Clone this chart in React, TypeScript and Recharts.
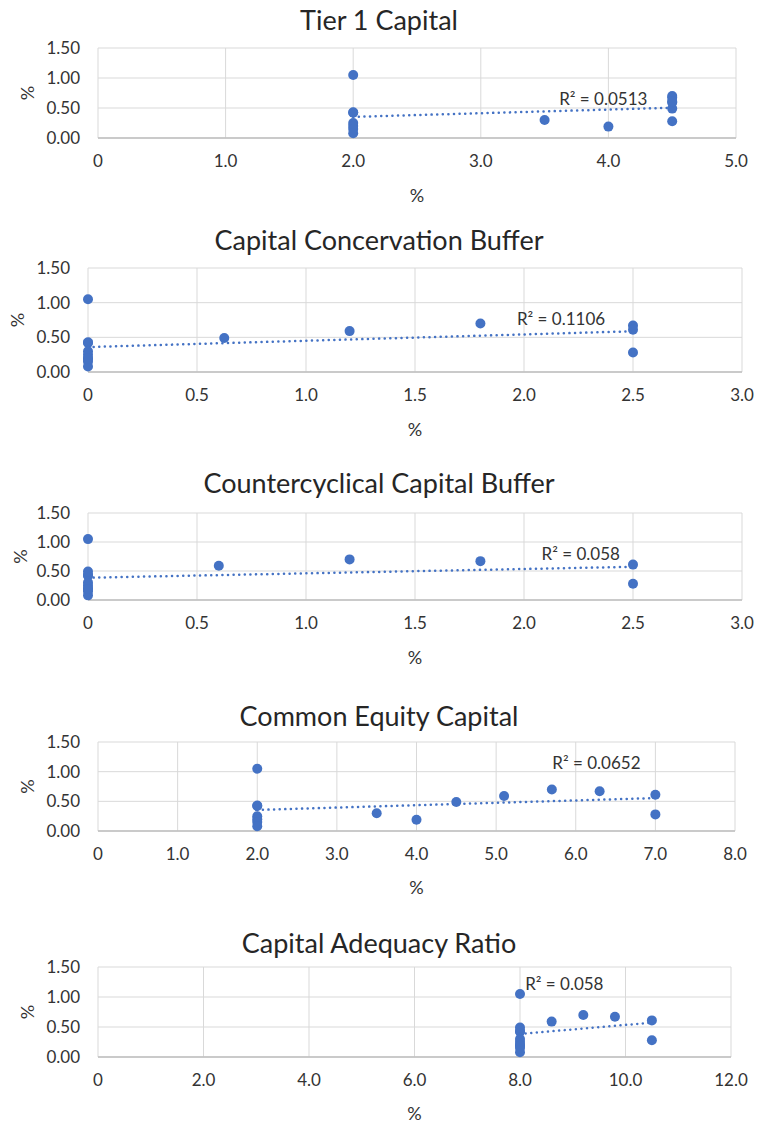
import React from 'react';
import { ScatterChart, Scatter, XAxis, YAxis, CartesianGrid, ReferenceDot, Label } from 'recharts';

// Dependent variable (same for all panels), %
const yValues = [1.05, 0.43, 0.42, 0.25, 0.2, 0.15, 0.08, 0.3, 0.19, 0.49, 0.59, 0.7, 0.67, 0.61, 0.28];

// Independent variables, %
const tier1X = [2, 2, 2, 2, 2, 2, 2, 3.5, 4, 4.5, 4.5, 4.5, 4.5, 4.5, 4.5];
const conservationX = [0, 0, 0, 0, 0, 0, 0, 0, 0, 0.625, 1.2, 1.8, 2.5, 2.5, 2.5];
const countercyclicalX = [0, 0, 0, 0, 0, 0, 0, 0, 0, 0, 0.6, 1.2, 1.8, 2.5, 2.5];
const commonEquityX = [2, 2, 2, 2, 2, 2, 2, 3.5, 4, 4.5, 5.1, 5.7, 6.3, 7, 7];
const carX = [8, 8, 8, 8, 8, 8, 8, 8, 8, 8, 8.6, 9.2, 9.8, 10.5, 10.5];

const titles = ['Tier 1 Capital', 'Capital Concervation Buffer', 'Countercyclical Capital Buffer', 'Common Equity Capital', 'Capital Adequacy Ratio'];
const r2Labels = ['R² = 0.0513', 'R² = 0.1106', 'R² = 0.058', 'R² = 0.0652', 'R² = 0.058'];
const r2Pos = [
  [3.96, 0.65],
  [2.17, 0.76],
  [2.26, 0.8],
  [6.26, 1.14],
  [8.84, 1.22],
];
const xTicks = [
  [0, 1, 2, 3, 4, 5],
  [0, 0.5, 1, 1.5, 2, 2.5, 3],
  [0, 0.5, 1, 1.5, 2, 2.5, 3],
  [0, 1, 2, 3, 4, 5, 6, 7, 8],
  [0, 2, 4, 6, 8, 10, 12],
];
const yTicks = [0, 0.5, 1, 1.5];
const xSeries = [tier1X, conservationX, countercyclicalX, commonEquityX, carX];

// layout (page px)
const boxes = [
  { l: 98, r: 736, t: 48, b: 138, titleY: 20, xLab: 57, yLab: 27 },
  { l: 88, r: 742, t: 268, b: 372, titleY: 240, xLab: 57, yLab: 17 },
  { l: 88, r: 742, t: 513, b: 600, titleY: 483, xLab: 57, yLab: 20 },
  { l: 98, r: 735, t: 742, b: 831, titleY: 716, xLab: 56, yLab: 27 },
  { l: 98, r: 731, t: 967, b: 1057, titleY: 943, xLab: 56, yLab: 27 },
];

const BLUE = '#4472C4';
const FONT = 'Lato, "Open Sans", sans-serif';
const TEXT = '#333333';

function regression(xs: number[], ys: number[]) {
  const n = xs.length;
  const mx = xs.reduce((a, b) => a + b, 0) / n;
  const my = ys.reduce((a, b) => a + b, 0) / n;
  let sxy = 0, sxx = 0;
  for (let i = 0; i < n; i++) {
    sxy += (xs[i] - mx) * (ys[i] - my);
    sxx += (xs[i] - mx) * (xs[i] - mx);
  }
  const slope = sxy / sxx;
  const icpt = my - slope * mx;
  const minX = Math.min(...xs);
  const maxX = Math.max(...xs);
  return [
    { x: minX, y: icpt + slope * minX },
    { x: maxX, y: icpt + slope * maxX },
  ];
}

const Dot = (p: any) => <circle cx={p.cx} cy={p.cy} r={5} fill={BLUE} />;
const NoDot = () => <g />;

function Panel({ i }: { i: number }) {
  const bx = boxes[i];
  const xs = xSeries[i];
  const data = xs.map((x, k) => ({ x, y: yValues[k] }));
  const trend = regression(xs, yValues);
  const ticks = xTicks[i];
  const top = 12;
  const chartTop = bx.t - top;
  const xAxisH = 75;
  const height = top + (bx.b - bx.t) + xAxisH;
  return (
    <>
      <div
        style={{
          position: 'absolute',
          left: 0,
          width: 758,
          top: bx.titleY - 18,
          height: 36,
          lineHeight: '36px',
          textAlign: 'center',
          fontFamily: FONT,
          fontSize: 27,
          color: '#262626',
        }}
      >
        {titles[i]}
      </div>
      <div style={{ position: 'absolute', left: 0, top: chartTop }}>
        <ScatterChart
          width={758}
          height={height}
          margin={{ top, right: 758 - bx.r, left: 0, bottom: 0 }}
        >
          <CartesianGrid stroke="#d9d9d9" strokeWidth={1} />
          <XAxis
            type="number"
            dataKey="x"
            domain={[ticks[0], ticks[ticks.length - 1]]}
            ticks={ticks}
            interval={0}
            height={xAxisH}
            axisLine={{ stroke: '#bfbfbf', strokeWidth: 1.5 }}
            tickLine={false}
            tickMargin={11}
            tick={{ fill: TEXT, fontSize: 17, fontFamily: FONT }}
            tickFormatter={(v: number) => (v === 0 ? '0' : v.toFixed(1))}
          >
            <Label
              content={(props: any) => {
                const vb = props.viewBox || { x: bx.l, y: bx.b - chartTop, width: bx.r - bx.l };
                return (
                  <text
                    x={vb.x + vb.width / 2}
                    y={vb.y + bx.xLab}
                    textAnchor="middle"
                    dominantBaseline="central"
                    fill={TEXT}
                    fontSize={18}
                    fontFamily={FONT}
                  >
                    %
                  </text>
                );
              }}
            />
          </XAxis>
          <YAxis
            type="number"
            dataKey="y"
            domain={[0, 1.5]}
            ticks={yTicks}
            interval={0}
            width={bx.l}
            axisLine={false}
            tickLine={false}
            tickMargin={12}
            tick={{ fill: TEXT, fontSize: 17, fontFamily: FONT }}
            tickFormatter={(v: number) => v.toFixed(2)}
          >
            <Label
              content={(props: any) => {
                const vb = props.viewBox || { x: 0, y: top, height: bx.b - bx.t };
                const cx = bx.yLab;
                const cy = vb.y + vb.height / 2;
                return (
                  <text
                    x={cx}
                    y={cy}
                    textAnchor="middle"
                    dominantBaseline="central"
                    transform={`rotate(-90, ${cx}, ${cy})`}
                    fill={TEXT}
                    fontSize={18}
                    fontFamily={FONT}
                  >
                    %
                  </text>
                );
              }}
            />
          </YAxis>
          <Scatter data={data} fill={BLUE} shape={Dot} isAnimationActive={false} />
          <Scatter
            data={trend}
            line={{ stroke: BLUE, strokeWidth: 2.5, strokeDasharray: '0.1 5.5', strokeLinecap: 'round' }}
            shape={NoDot}
            isAnimationActive={false}
          />
          <ReferenceDot
            x={r2Pos[i][0]}
            y={r2Pos[i][1]}
            r={0}
            fill="none"
            stroke="none"
            ifOverflow="visible"
            label={{ value: r2Labels[i], position: 'center', fill: TEXT, fontSize: 17, fontFamily: FONT }}
          />
        </ScatterChart>
      </div>
    </>
  );
}

export default function App() {
  return (
    <div style={{ position: 'absolute', left: 0, top: 0, width: 758, height: 1123, background: '#ffffff' }}>
      {boxes.map((_, i) => (
        <Panel key={i} i={i} />
      ))}
    </div>
  );
}
